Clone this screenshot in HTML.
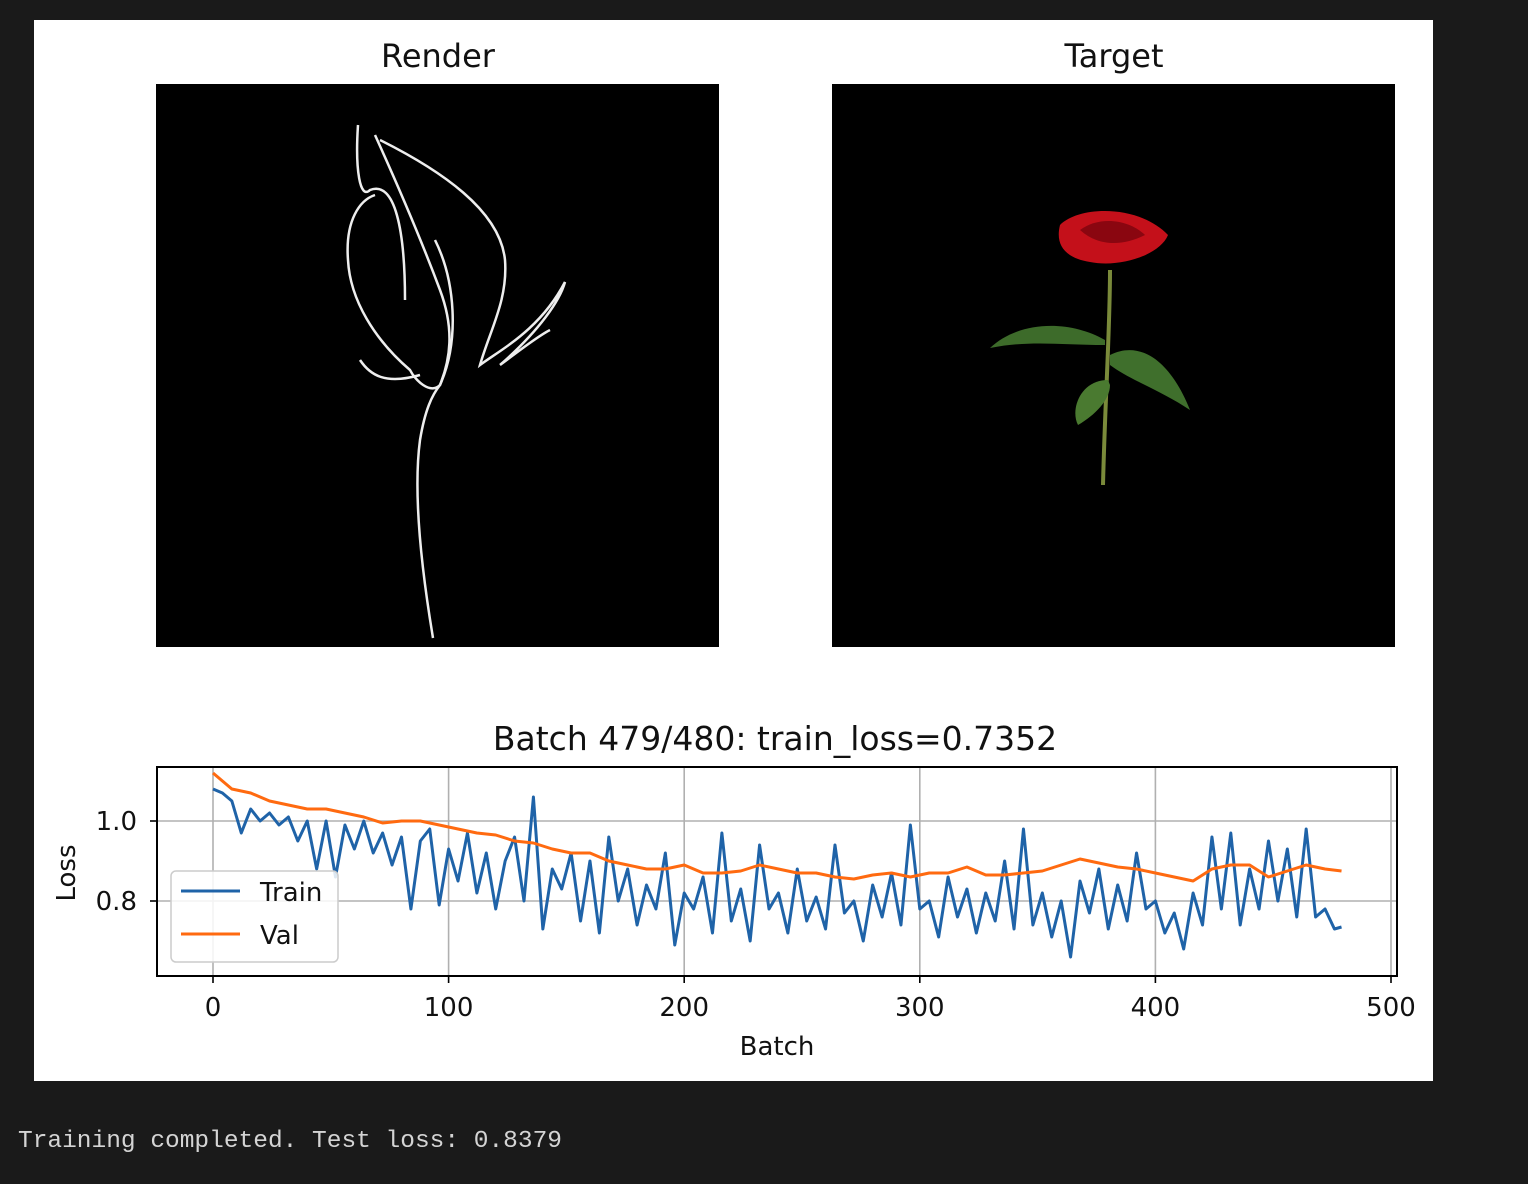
<!DOCTYPE html>
<html><head><meta charset="utf-8"><style>
body{margin:0;width:1528px;height:1184px;background:#1a1a1a;overflow:hidden;font-family:"DejaVu Sans","Liberation Sans",sans-serif}
#fig{position:absolute;left:34px;top:20px;width:1399px;height:1061px;background:#fff}
#out{position:absolute;left:18px;top:1128px;color:#d4d4d4;font-family:"Liberation Mono","DejaVu Sans Mono",monospace;font-size:24.5px;white-space:pre}
</style></head><body>
<div id="fig">
<svg width="1399" height="1061" viewBox="34 20 1399 1061" xmlns="http://www.w3.org/2000/svg" font-family="DejaVu Sans, Liberation Sans, sans-serif">
<text x="438" y="67" font-size="32" text-anchor="middle" fill="#111">Render</text>
<rect x="156" y="84" width="563" height="563" fill="#000"/>
<g fill="none" stroke="#eee" stroke-width="2.5">
<path d="M433 638 C425 590 412 500 420 440 C425 410 432 395 440 385 C450 360 455 330 440 290 C425 250 400 190 375 135"/>
<path d="M380 140 C440 170 500 210 505 260 C508 300 490 330 480 365 C500 350 540 330 565 282 C560 300 540 330 500 365 C520 350 540 335 550 330"/>
<path d="M358 125 C355 170 360 200 370 190 C395 180 405 230 405 300"/>
<path d="M435 240 C455 280 460 340 440 385 C430 395 415 380 410 370 C375 340 350 300 348 260 C345 220 360 200 375 195"/>
<path d="M360 360 C370 375 385 385 420 375"/>
</g>
<text x="1114" y="67" font-size="32" text-anchor="middle" fill="#111">Target</text>
<rect x="832" y="84" width="563" height="563" fill="#000"/>
<g>
<path d="M1110 270 C1110 330 1105 400 1103 485" stroke="#7a8a3a" stroke-width="4" fill="none"/>
<path d="M1105 340 C1070 320 1020 320 990 348 C1030 340 1060 345 1105 345Z" fill="#3d6b2a"/>
<path d="M1110 355 C1140 340 1170 360 1190 410 C1160 390 1130 380 1110 365Z" fill="#3f6f2c"/>
<path d="M1108 380 C1080 380 1070 410 1078 425 C1095 415 1110 400 1110 385Z" fill="#4a7a30"/>
<path d="M1060 225 C1080 205 1140 205 1168 235 C1160 255 1120 268 1090 262 C1065 258 1055 245 1060 225Z" fill="#c4101a"/>
<path d="M1080 230 C1100 215 1130 220 1145 235 C1125 245 1100 248 1080 230Z" fill="#8a0610"/>
</g>
<text x="775" y="750" font-size="33" text-anchor="middle" fill="#111">Batch 479/480: train_loss=0.7352</text>
<g id="chart"></g>
</svg>
</div>
<div id="out">Training completed. Test loss: 0.8379</div>
<script>
const trainX=[0,4,8,12,16,20,24,28,32,36,40,44,48,52,56,60,64,68,72,76,80,84,88,92,96,100,104,108,112,116,120,124,128,132,136,140,144,148,152,156,160,164,168,172,176,180,184,188,192,196,200,204,208,212,216,220,224,228,232,236,240,244,248,252,256,260,264,268,272,276,280,284,288,292,296,300,304,308,312,316,320,324,328,332,336,340,344,348,352,356,360,364,368,372,376,380,384,388,392,396,400,404,408,412,416,420,424,428,432,436,440,444,448,452,456,460,464,468,472,476,479];
const trainY=[1.08,1.07,1.05,0.97,1.03,1.0,1.02,0.99,1.01,0.95,1.0,0.88,1.0,0.86,0.99,0.93,1.0,0.92,0.97,0.89,0.96,0.78,0.95,0.98,0.79,0.93,0.85,0.97,0.82,0.92,0.78,0.9,0.96,0.80,1.06,0.73,0.88,0.83,0.92,0.75,0.9,0.72,0.96,0.8,0.88,0.74,0.84,0.78,0.92,0.69,0.82,0.78,0.86,0.72,0.97,0.75,0.83,0.70,0.94,0.78,0.82,0.72,0.88,0.75,0.81,0.73,0.94,0.77,0.80,0.70,0.84,0.76,0.87,0.74,0.99,0.78,0.80,0.71,0.86,0.76,0.83,0.72,0.82,0.75,0.90,0.73,0.98,0.74,0.82,0.71,0.80,0.66,0.85,0.77,0.88,0.73,0.84,0.75,0.92,0.78,0.80,0.72,0.77,0.68,0.82,0.74,0.96,0.78,0.97,0.74,0.88,0.78,0.95,0.80,0.93,0.76,0.98,0.76,0.78,0.73,0.735];
const valX=[0,8,16,24,32,40,48,56,64,72,80,88,96,104,112,120,128,136,144,152,160,168,176,184,192,200,208,216,224,232,240,248,256,264,272,280,288,296,304,312,320,328,336,344,352,360,368,376,384,392,400,408,416,424,432,440,448,456,464,472,479];
const valY=[1.12,1.08,1.07,1.05,1.04,1.03,1.03,1.02,1.01,0.995,1.0,1.0,0.99,0.98,0.97,0.965,0.95,0.945,0.93,0.92,0.92,0.9,0.89,0.88,0.88,0.89,0.87,0.87,0.875,0.89,0.88,0.87,0.87,0.86,0.855,0.865,0.87,0.86,0.87,0.87,0.885,0.865,0.865,0.87,0.875,0.89,0.905,0.895,0.885,0.88,0.87,0.86,0.85,0.88,0.89,0.89,0.86,0.875,0.89,0.88,0.875];
const xTicks=[0,100,200,300,400,500];
const yTicks=[0.8,1.0];
const ns="http://www.w3.org/2000/svg";
const L=157,R=1397,T=767,B=976;
const sx=v=>213+(v-0)*2.356;
const sy=v=>821-(v-1.0)*400;
const g=document.getElementById('chart');
function mk(t,a){const e=document.createElementNS(ns,t);for(const k in a)e.setAttribute(k,a[k]);g.appendChild(e);return e;}
xTicks.forEach(t=>{const x=sx(t);
const gl=mk('line',{x1:x,x2:x,y1:T,y2:B,stroke:'#b0b0b0','stroke-width':1.6});


mk('line',{x1:x,x2:x,y1:B,y2:B+7,stroke:'#000','stroke-width':1.6});
const tx=mk('text',{x:x,y:B+40,'font-size':26,'text-anchor':'middle',fill:'#111'});tx.textContent=t;

});
yTicks.forEach(t=>{const y=sy(t);
const gl=mk('line',{x1:L,x2:R,y1:y,y2:y,stroke:'#b0b0b0','stroke-width':1.6});


mk('line',{x1:L-7,x2:L,y1:y,y2:y,stroke:'#000','stroke-width':1.6});
const tx=mk('text',{x:L-20,y:y+9,'font-size':26,'text-anchor':'end',fill:'#111'});tx.textContent=t.toFixed(1);

});
const tp=mk('polyline',{points:trainX.map((x,i)=>sx(x)+','+sy(trainY[i])).join(' '),fill:'none',stroke:'#1f63a8','stroke-width':3,'stroke-linejoin':'round'});


const vp=mk('polyline',{points:valX.map((x,i)=>sx(x)+','+sy(valY[i])).join(' '),fill:'none',stroke:'#ff6a10','stroke-width':3,'stroke-linejoin':'round'});


const fr=mk('rect',{x:L,y:T,width:R-L,height:B-T,fill:'none',stroke:'#000','stroke-width':2});


const lg=mk('rect',{x:171,y:871,width:167,height:91,rx:5,fill:'#fff','fill-opacity':0.85,stroke:'#ccc','stroke-width':1.5});


mk('line',{x1:181,x2:240,y1:891,y2:891,stroke:'#1f63a8','stroke-width':3});
mk('line',{x1:181,x2:240,y1:934,y2:934,stroke:'#ff6a10','stroke-width':3});
const l1=mk('text',{x:260,y:901,'font-size':26,fill:'#111'});l1.textContent='Train';


const l2=mk('text',{x:260,y:944,'font-size':26,fill:'#111'});l2.textContent='Val';


const xl=mk('text',{x:777,y:1055,'font-size':26,'text-anchor':'middle',fill:'#111'});xl.textContent='Batch';


const yl=mk('text',{x:75,y:873,'font-size':26,'text-anchor':'middle',fill:'#111',transform:'rotate(-90 75 873)'});yl.textContent='Loss';


</script>
</body></html>
